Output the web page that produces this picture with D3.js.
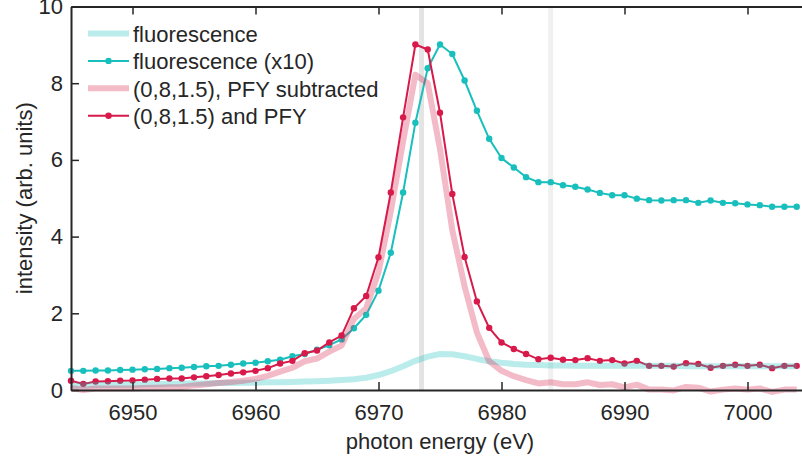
<!DOCTYPE html>
<html>
<head>
<meta charset="utf-8">
<script src="https://cdn.jsdelivr.net/npm/d3@7"></script>
<style>
  body { margin: 0; background: #fff; }
  svg text { font-family: "Liberation Sans", Arial, sans-serif; fill: #262626; }
</style>
</head>
<body>
<svg id="chart" width="802" height="464"></svg>
<script>
// photon energy grid (eV), 1 eV steps
const energy = [6945,6946,6947,6948,6949,6950,6951,6952,6953,6954,
  6955,6956,6957,6958,6959,6960,6961,6962,6963,6964,
  6965,6966,6967,6968,6969,6970,6971,6972,6973,6974,
  6975,6976,6977,6978,6979,6980,6981,6982,6983,6984,
  6985,6986,6987,6988,6989,6990,6991,6992,6993,6994,
  6995,6996,6997,6998,6999,7000,7001,7002,7003,7004];

const fluorescence = [0.12,0.12,0.13,0.13,0.14,0.14,0.15,0.15,0.16,0.16,
  0.17,0.17,0.18,0.18,0.19,0.19,0.20,0.20,0.21,0.22,
  0.23,0.24,0.26,0.28,0.32,0.39,0.49,0.62,0.76,0.87,
  0.94,0.93,0.88,0.81,0.75,0.71,0.68,0.66,0.65,0.64,
  0.64,0.63,0.63,0.63,0.63,0.63,0.63,0.63,0.63,0.63,
  0.62,0.62,0.62,0.62,0.62,0.62,0.62,0.62,0.62,0.62];

const fluorescenceX10 = [0.50,0.50,0.51,0.51,0.52,0.53,0.54,0.55,0.57,0.58,
  0.60,0.62,0.63,0.66,0.69,0.71,0.75,0.79,0.88,0.94,
  1.05,1.17,1.32,1.61,1.96,2.59,3.58,5.15,6.97,8.39,
  9.01,8.76,8.07,7.28,6.55,6.05,5.80,5.55,5.42,5.42,
  5.34,5.30,5.23,5.14,5.08,5.08,4.99,4.95,4.94,4.95,
  4.95,4.88,4.94,4.88,4.87,4.84,4.82,4.78,4.78,4.78];

const pfySubtracted = [0.05,0.00,0.04,0.04,0.04,0.04,0.05,0.06,0.07,0.08,
  0.12,0.15,0.18,0.21,0.24,0.29,0.37,0.48,0.58,0.75,
  0.82,1.00,1.16,1.85,2.13,3.07,4.66,6.49,8.22,8.00,
  6.28,4.17,2.70,1.50,0.75,0.50,0.36,0.26,0.17,0.20,
  0.15,0.15,0.20,0.13,0.15,0.07,0.14,0.01,0.01,-0.01,
  0.08,0.06,-0.04,0.01,0.04,0.01,0.04,-0.05,0.01,0.01];

const withPfy = [0.24,0.16,0.22,0.23,0.24,0.25,0.27,0.29,0.30,0.30,
  0.33,0.36,0.39,0.43,0.46,0.50,0.57,0.69,0.76,0.96,
  1.03,1.24,1.42,2.13,2.45,3.46,5.15,7.11,9.01,8.88,
  7.23,5.11,3.47,2.31,1.62,1.24,1.07,0.94,0.80,0.84,
  0.79,0.78,0.83,0.76,0.78,0.69,0.76,0.63,0.63,0.61,
  0.70,0.68,0.58,0.63,0.66,0.63,0.66,0.57,0.63,0.63];

const markerLines = [6973.5, 6984];
const xTicks = [6950, 6960, 6970, 6980, 6990, 7000];
const yTicks = [0, 2, 4, 6, 8, 10];

const CYAN = '#19bfbc';
const RED = '#d71a4a';

const series = [
  { name: 'fluorescence', values: fluorescence, color: CYAN, thick: true },
  { name: 'fluorescence (x10)', values: fluorescenceX10, color: CYAN, thick: false },
  { name: '(0,8,1.5), PFY subtracted', values: pfySubtracted, color: RED, thick: true },
  { name: '(0,8,1.5) and PFY', values: withPfy, color: RED, thick: false }
];

const svg = d3.select('svg#chart');
const plot = { left: 71, right: 809, top: 6.5, bottom: 390 };

const xScale = d3.scaleLinear().domain([6945, 7005]).range([plot.left, plot.right]);
const yScale = d3.scaleLinear().domain([0, 10]).range([plot.bottom, plot.top]);

// grey reference bands
svg.append('g').attr('class', 'bands')
  .selectAll('line')
  .data(markerLines)
  .enter().append('line')
  .attr('x1', d => xScale(d)).attr('x2', d => xScale(d))
  .attr('y1', plot.top).attr('y2', plot.bottom)
  .attr('stroke', (d, i) => i === 0 ? '#e4e4e4' : '#f0f0f0')
  .attr('stroke-width', 5);

const line = vals => d3.line()
  .x((d, i) => xScale(energy[i]))
  .y(d => yScale(d))(vals);

// dotted series first, translucent thick ones on top
const dotted = series.filter(s => !s.thick);
const thick = series.filter(s => s.thick);

dotted.forEach(s => {
  const g = svg.append('g').attr('class', 'series');
  g.append('path')
    .attr('d', line(s.values))
    .attr('fill', 'none')
    .attr('stroke', s.color)
    .attr('stroke-width', 2);
  g.selectAll('circle')
    .data(s.values)
    .enter().append('circle')
    .attr('cx', (d, i) => xScale(energy[i]))
    .attr('cy', d => yScale(d))
    .attr('r', 3.2)
    .attr('fill', s.color);
});

thick.forEach(s => {
  svg.append('path')
    .attr('d', line(s.values))
    .attr('fill', 'none')
    .attr('stroke', s.color)
    .attr('stroke-opacity', 0.3)
    .attr('stroke-width', 6)
    .attr('stroke-linejoin', 'round');
});

// axes (ticks point inwards, box on top and left)
const axisColor = '#262626';
const xAxis = svg.append('g')
  .attr('transform', `translate(0,${plot.bottom})`)
  .call(d3.axisBottom(xScale).tickValues(xTicks).tickSizeInner(-8).tickSizeOuter(0).tickPadding(14.5).tickFormat(d3.format('d')));
const xAxisTop = svg.append('g')
  .attr('transform', `translate(0,${plot.top})`)
  .call(d3.axisTop(xScale).tickValues(xTicks).tickSizeInner(-8).tickSizeOuter(0).tickFormat(''));
const yAxis = svg.append('g')
  .attr('transform', `translate(${plot.left},0)`)
  .call(d3.axisLeft(yScale).tickValues(yTicks).tickSizeInner(-8).tickSizeOuter(0).tickPadding(8));

[xAxis, xAxisTop, yAxis].forEach(a => {
  a.select('.domain').attr('stroke', axisColor).attr('stroke-width', 2);
  a.selectAll('.tick line').attr('stroke', axisColor).attr('stroke-width', 1.5);
  a.selectAll('.tick text').style('font-size', '22px').attr('fill', axisColor);
});

svg.append('text')
  .attr('x', xScale(6975)).attr('y', 449)
  .style('text-anchor', 'middle')
  .style('font-size', '22px')
  .text('photon energy (eV)');

svg.append('text')
  .attr('transform', `translate(32,${(plot.top + plot.bottom) / 2}) rotate(-90)`)
  .style('text-anchor', 'middle')
  .style('font-size', '22px')
  .text('intensity (arb. units)');

// legend
const legend = svg.append('g').attr('class', 'legend');
series.forEach((s, i) => {
  const yRow = 33.5 + i * 27.4;
  const row = legend.append('g').attr('transform', `translate(0,${yRow})`);
  row.append('line')
    .attr('x1', 88).attr('x2', 129)
    .attr('stroke', s.color)
    .attr('stroke-width', s.thick ? 6 : 2)
    .attr('stroke-opacity', s.thick ? 0.3 : 1);
  if (!s.thick) {
    row.append('circle').attr('cx', 108.5).attr('r', 3.2).attr('fill', s.color);
  }
  row.append('text')
    .attr('x', 133).attr('y', 8.5)
    .style('font-size', '22px')
    .text(s.name);
});
</script>
</body>
</html>
